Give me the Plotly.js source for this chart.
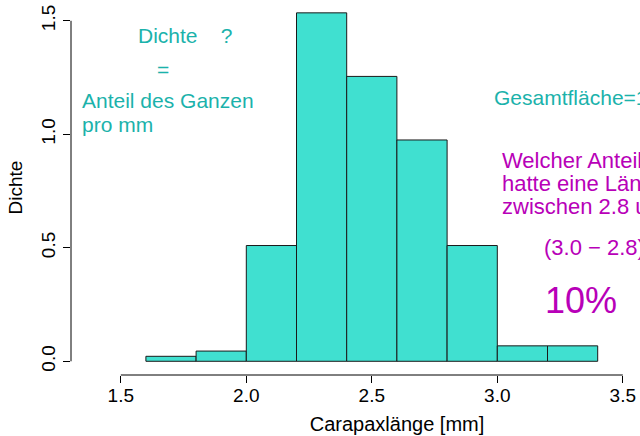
<!DOCTYPE html>
<html>
<head>
<meta charset="utf-8">
<script src="https://cdn.plot.ly/plotly-3.0.1.min.js"></script>
<style>
html,body{margin:0;padding:0;background:#fff;overflow:hidden;width:640px;height:436px;}
#chart{width:723px;height:436px;}
</style>
</head>
<body>
<div id="chart"></div>
<script>
// Histogram bins (class breaks) and densities
var breaks = [1.6, 1.8, 2.0, 2.2, 2.4, 2.6, 2.8, 3.0, 3.2, 3.4];
var density = [0.022, 0.045, 0.51, 1.535, 1.255, 0.975, 0.51, 0.068, 0.068];
var xTickVals = [1.5, 2.0, 2.5, 3.0, 3.5];
var xTickText = ["1.5", "2.0", "2.5", "3.0", "3.5"];
var yTickVals = [0.0, 0.5, 1.0, 1.5];
var yTickText = ["0.0", "0.5", "1.0", "1.5"];
var xLabel = "Carapaxlänge [mm]";
var yLabel = "Dichte";
var noteCyan = ["Dichte    ?", "=", "Anteil des Ganzen", "pro mm", "Gesamtfläche=1"];
var noteMagenta = ["Welcher Anteil", "hatte eine Länge", "zwischen 2.8 und 3.0?", "(3.0 − 2.8) × 0.51", "10%"];

var centers = [], widths = [];
for (var i = 0; i < breaks.length - 1; i++) {
  centers.push((breaks[i] + breaks[i + 1]) / 2);
  widths.push(breaks[i + 1] - breaks[i]);
}

// The original figure is wider than the 640px view and is cropped at the right edge
var W = 723, H = 436;
var mL = 71, mR = 0, mT = 0, mB = 61;
var pw = W - mL - mR, ph = H - mT - mB;
function px(x) { return (x - mL) / pw; }
function py(y) { return (H - mB - y) / ph; }

var font = "Liberation Sans, Arial, Helvetica, sans-serif";
var cyan = "#1BB2AB";
var mag = "#B800B8";

var trace = {
  type: "bar",
  x: centers,
  y: density,
  width: widths,
  marker: { color: "#40E0D0", line: { color: "#1a1a1a", width: 1 } },
  hoverinfo: "x+y"
};

function ann(text, x, y, size, color, anchor) {
  return { text: text, xref: "paper", yref: "paper", x: px(x), y: py(y),
    xanchor: anchor || "left", yanchor: "middle", showarrow: false,
    font: { family: font, size: size, color: color } };
}

var x0 = 1.3016, scaleX = 251;
var layout = {
  width: W, height: H,
  margin: { l: mL, r: mR, t: mT, b: mB, pad: 0 },
  paper_bgcolor: "#fff", plot_bgcolor: "#fff",
  showlegend: false,
  bargap: 0,
  font: { family: font, color: "#000" },
  xaxis: {
    range: [x0, x0 + pw / scaleX],
    tickvals: xTickVals, ticktext: xTickText,
    ticks: "outside", ticklen: 7, tickwidth: 1, tickcolor: "#000",
    ticklabelstandoff: -4,
    showline: false, showgrid: false, zeroline: false,
    tickfont: { family: font, size: 19, color: "#000" },
    title: { text: xLabel, font: { family: font, size: 20, color: "#000" }, standoff: 12 },
    automargin: false, fixedrange: true
  },
  yaxis: {
    range: [-0.0604, 1.5916],
    tickvals: yTickVals, ticktext: yTickText, tickangle: -90,
    ticks: "outside", ticklen: 7, tickwidth: 1, tickcolor: "#000",
    showline: false, showgrid: false, zeroline: false,
    tickfont: { family: font, size: 19, color: "#000" },
    title: { text: yLabel, font: { family: font, size: 19, color: "#000" }, standoff: 10 },
    automargin: false, fixedrange: true
  },
  shapes: [
    { type: "line", xref: "paper", yref: "y", x0: 0, x1: 0,
      y0: yTickVals[0], y1: yTickVals[yTickVals.length - 1], line: { color: "#000", width: 1 } },
    { type: "line", xref: "x", yref: "paper", y0: 0, y1: 0,
      x0: xTickVals[0], x1: xTickVals[xTickVals.length - 1], line: { color: "#000", width: 1 } }
  ],
  annotations: [
    ann(noteCyan[0], 136, 35, 21, cyan),
    ann(noteCyan[1], 163, 70, 21, cyan, "center"),
    ann(noteCyan[2], 80, 101, 21, cyan),
    ann(noteCyan[3], 80, 124, 21, cyan),
    ann(noteCyan[4], 492, 97, 21, cyan),
    ann(noteMagenta[0], 500, 160, 22, mag),
    ann(noteMagenta[1], 500, 183, 22, mag),
    ann(noteMagenta[2], 500, 206, 22, mag),
    ann(noteMagenta[3], 542, 247, 22, mag),
    ann(noteMagenta[4], 543, 300, 36, mag)
  ]
};

Plotly.newPlot("chart", [trace], layout, { displayModeBar: false, staticPlot: true });
</script>
</body>
</html>
